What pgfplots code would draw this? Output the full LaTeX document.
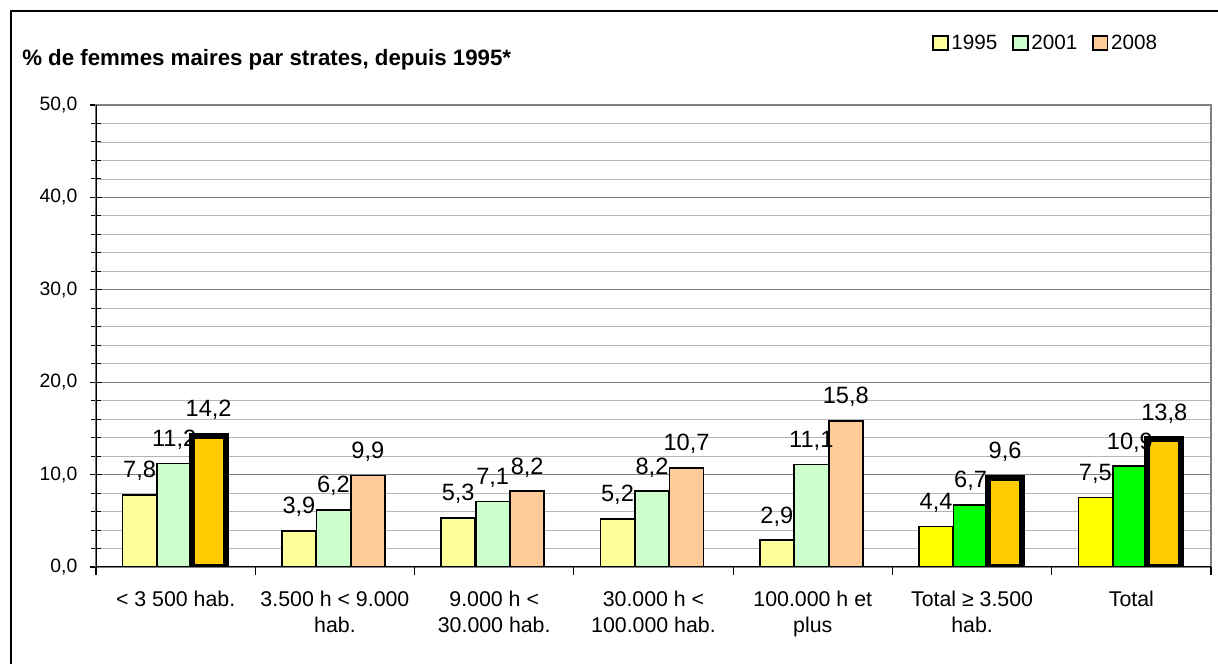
\documentclass[border=0pt]{standalone}
\usepackage{pgfplots}
\pgfplotsset{compat=1.18}
\usepackage{pgfplotstable}
\usepackage{fontspec}
\setmainfont{Liberation Sans}
\definecolor{paleY}{HTML}{FFFF99}
\definecolor{paleG}{HTML}{CCFFCC}
\definecolor{peach}{HTML}{FFCC99}
\definecolor{brightY}{HTML}{FFFF00}
\definecolor{brightG}{HTML}{00FF00}
\definecolor{gold}{HTML}{FFCC00}
\definecolor{gridmaj}{HTML}{808080}
\definecolor{gridmin}{HTML}{B4B4B4}

% 1995
\pgfplotstableread{
x y
0 7.8
1 3.9
2 5.3
3 5.2
4 2.9
}\paleA
\pgfplotstableread{
x y
5 4.4
6 7.5
}\brightA
% 2001
\pgfplotstableread{
x y
0 11.2
1 6.2
2 7.1
3 8.2
4 11.1
}\paleB
\pgfplotstableread{
x y
5 6.7
6 10.9
}\brightB
% 2008
\pgfplotstableread{
x y
1 9.9
2 8.2
3 10.7
4 15.8
}\paleC
\pgfplotstableread{
x y
0 14.2
5 9.6
6 13.8
}\goldC

\begin{document}
\begin{tikzpicture}[x=1pt,y=1pt]
\useasboundingbox (0,0) rectangle (913.5,498);
\draw[line width=1.1pt] (913.5,489.75) -- (8.25,489.75) -- (8.25,0);
\node[anchor=west, font=\bfseries\fontsize{16.7}{20}\selectfont, inner sep=0pt] at (16.5,453) {\% de femmes maires par strates, depuis 1995*};
\begin{axis}[
  at={(72pt,72.75pt)}, anchor=south west,
  scale only axis, width=836.25pt, height=346.5pt,
  ybar, bar width=0.2137,
  xmin=-0.5, xmax=6.5, ymin=0, ymax=50,
  /pgf/number format/assume math mode=true,
  xtick={0,...,6},
  xticklabels={{< 3 500 hab.},{3.500 h < 9.000\\hab.},{9.000 h <\\30.000 hab.},{30.000 h <\\100.000 hab.},{100.000 h et\\plus},{Total ≥ 3.500\\hab.},{Total}},
  xticklabel style={align=center, font=\fontsize{16}{19.5}\selectfont, yshift=-10pt},
  xtick style={draw=none},
  xtick pos=bottom, ytick pos=left,
  extra x ticks={-0.5,0.5,...,6.5},
  extra x tick labels={},
  extra x tick style={xtick pos=bottom, tick align=outside, major tick length=6pt, xtick style={draw=black, line width=0.8pt}},
  ytick={0,10,...,50},
  minor y tick num=4,
  yticklabel={\pgfmathprintnumber[fixed,fixed zerofill,precision=1,use comma]{\tick}},
  yticklabel style={font=\fontsize{14.5}{17}\selectfont, xshift=-6pt},
  tick align=center,
  major tick length=9pt, minor tick length=8pt,
  ytick style={draw=black, line width=0.8pt},
  minor y tick style={draw=black, line width=0.8pt},
  ymajorgrids, yminorgrids,
  major grid style={draw=gridmaj, line width=0.8pt},
  minor grid style={draw=gridmin, line width=0.6pt},
  axis line style={draw=gridmaj, line width=0.8pt},
  nodes near coords={\pgfmathprintnumber[fixed,fixed zerofill,precision=1,use comma]{\pgfplotspointmeta}},
  every node near coord/.append style={font=\fontsize{17.7}{20}\selectfont, inner sep=0pt, yshift=10pt, text=black},
  legend image code/.code={\draw[#1, draw=black, line width=1.4pt] (0pt,-5.5pt) rectangle (11pt,5.5pt);},
  legend columns=3,
  legend style={at={(axis description cs:0.9543,1.1342)}, anchor=east, draw=none, fill=none,
    font=\fontsize{15.5}{18}\selectfont, inner sep=0pt,
    /tikz/every even column/.append style={column sep=9pt}},
  legend cell align=left,
]
\addplot[fill=paleY, draw=black, line width=1.2pt, bar shift=-0.226] table[x=x,y=y] {\paleA};
\addlegendentry{1995}
\addplot[fill=paleG, draw=black, line width=1.2pt, bar shift=-0.0094] table[x=x,y=y] {\paleB};
\addlegendentry{2001}
\addplot[fill=peach, draw=black, line width=1.2pt, bar shift=0.207] table[x=x,y=y] {\paleC};
\addlegendentry{2008}
\addplot[fill=brightY, draw=black, line width=1.2pt, bar shift=-0.226, forget plot] table[x=x,y=y] {\brightA};
\addplot[fill=brightG, draw=black, line width=1.2pt, bar shift=-0.0094, forget plot] table[x=x,y=y] {\brightB};
\addplot[fill=gold, draw=black, line width=4.5pt, bar shift=0.207, forget plot] table[x=x,y=y] {\goldC};
\draw[black, line width=1pt] (rel axis cs:0,1) -- (rel axis cs:0,0) -- (rel axis cs:1,0);
\end{axis}
\end{tikzpicture}
\end{document}
